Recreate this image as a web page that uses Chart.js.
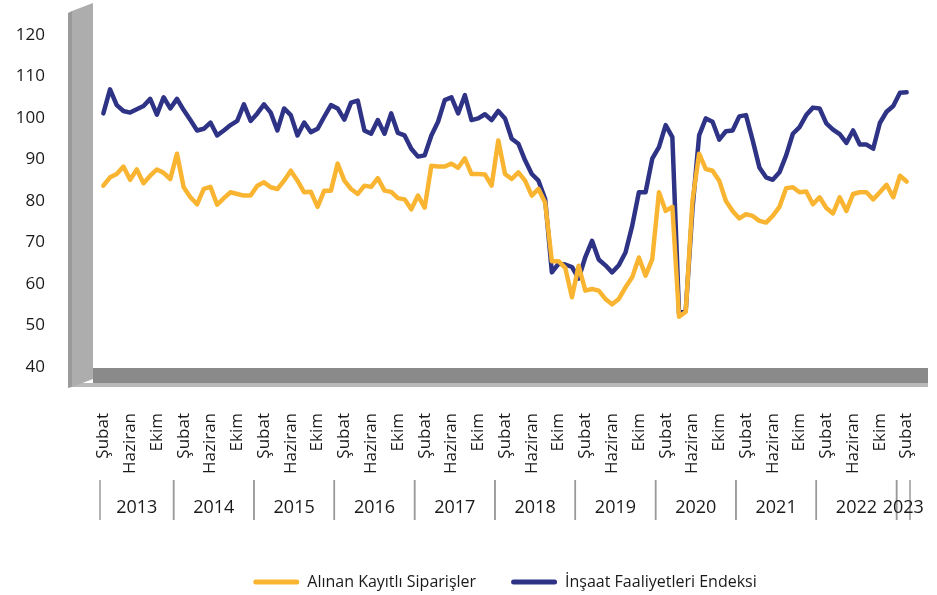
<!DOCTYPE html>
<html>
<head>
<meta charset="utf-8">
<script src="https://cdn.jsdelivr.net/npm/chart.js@4.4.0/dist/chart.umd.min.js"></script>
<style>
  html, body { margin: 0; padding: 0; background: #fff; }
  #wrap { width: 937px; height: 595px; }
</style>
</head>
<body>
<div id="wrap"><canvas id="chart"></canvas></div>
<script>
// aylar ve yillar (seri Şubat 2013 ile baslar)
const months = ['Ocak', 'Şubat', 'Mart', 'Nisan', 'Mayıs', 'Haziran', 'Temmuz', 'Ağustos', 'Eylül', 'Ekim', 'Kasım', 'Aralık'];
const years = ['2013', '2014', '2015', '2016', '2017', '2018', '2019', '2020', '2021', '2022', '2023'];
const startMonth = 1;

const siparis = [
  83.7, 85.7, 86.5, 88.3, 85.1, 87.6, 84.3, 86.1, 87.6, 86.8, 85.3,
  91.4, 83.3, 80.9, 79.2, 82.9, 83.4, 79.1, 80.7, 82.1, 81.7, 81.3, 81.3,
  83.7, 84.5, 83.3, 82.9, 84.9, 87.3, 84.9, 82.1, 82.2, 78.6, 82.5, 82.5,
  89.0, 84.9, 82.9, 81.7, 83.7, 83.4, 85.5, 82.5, 82.2, 80.7, 80.4, 78.0,
  81.3, 78.4, 88.5, 88.3, 88.3, 89.0, 88.0, 90.3, 86.5, 86.5, 86.4, 83.7,
  94.6, 86.5, 85.3, 86.9, 84.9, 81.3, 82.9, 79.6, 65.5, 65.5, 63.9, 56.8,
  64.4, 58.4, 58.8, 58.4, 56.4, 55.1, 56.4, 59.2, 61.6, 66.4, 62.0, 66.0,
  82.1, 77.6, 78.6, 52.1, 53.3, 80.0, 91.4, 87.7, 87.3, 84.9, 80.0, 77.6,
  75.8, 76.8, 76.4, 75.2, 74.8, 76.4, 78.6, 83.1, 83.3, 82.1, 82.3, 79.2,
  80.9, 78.3, 77.0, 80.9, 77.6, 81.7, 82.1, 82.1, 80.4, 82.1, 83.9, 80.9,
  86.1, 84.7
];

const insaat = [
  101.1, 106.9, 103.1, 101.7, 101.3, 102.1, 102.9, 104.6, 100.8, 105.0, 102.3,
  104.6, 101.9, 99.5, 97.0, 97.4, 98.9, 95.8, 97.0, 98.3, 99.3, 103.3, 99.3,
  101.1, 103.3, 101.3, 97.0, 102.3, 100.7, 95.8, 98.9, 96.6, 97.4, 100.3, 103.1,
  102.3, 99.6, 103.7, 104.2, 97.0, 96.2, 99.5, 96.2, 101.1, 96.4, 95.8, 92.6,
  90.7, 91.0, 95.8, 99.1, 104.3, 105.0, 101.1, 105.5, 99.5, 99.9, 100.9, 99.5,
  101.7, 99.9, 95.0, 93.8, 89.8, 86.5, 84.9, 80.5, 62.8, 64.9, 64.7, 64.1,
  61.3, 66.5, 70.4, 65.9, 64.5, 62.8, 64.5, 67.6, 74.0, 82.1, 82.1, 90.2,
  93.0, 98.3, 95.4, 52.9, 53.6, 78.0, 95.8, 99.9, 99.1, 94.8, 96.8, 97.0,
  100.4, 100.7, 94.6, 88.1, 85.7, 85.1, 86.9, 91.0, 96.2, 97.8, 100.7, 102.5,
  102.3, 98.7, 97.2, 96.1, 94.0, 97.0, 93.6, 93.6, 92.6, 98.8, 101.5, 102.9,
  106.1, 106.2
];

const labels = [];
const labelYear = [];
for (let i = 0; i < siparis.length; i++) {
  const m = startMonth + i;
  labels.push(months[m % 12]);
  labelYear.push(years[Math.floor(m / 12)]);
}

const FONT = '"Open Sans", sans-serif';
const TEXT = '#1a1a1a';

// gri duvar ve zemin (excel 3B gorunumu)
const decor = {
  id: 'decor',
  beforeDatasetsDraw(chart) {
    const { ctx, chartArea: a } = chart;
    const l = a.left, t = a.top, b = a.bottom, r = a.right;
    ctx.save();
    ctx.fillStyle = '#8a8a8a';
    ctx.fillRect(l - 7, b + 1, r + 18 - (l - 7), 15);
    ctx.fillStyle = '#b9b9b9';
    ctx.fillRect(l - 28, b + 16, r + 18 - (l - 28), 4);
    // duvarin yan yuzu
    ctx.fillStyle = '#9a9a9a';
    ctx.beginPath();
    ctx.moveTo(l - 32, t - 22);
    ctx.lineTo(l - 28, t - 24);
    ctx.lineTo(l - 28, b + 20);
    ctx.lineTo(l - 32, b + 21);
    ctx.closePath();
    ctx.fill();
    // duvarin on yuzu
    ctx.fillStyle = '#adadad';
    ctx.beginPath();
    ctx.moveTo(l - 28, t - 24);
    ctx.lineTo(l - 7, t - 32);
    ctx.lineTo(l - 7, b + 12);
    ctx.lineTo(l - 28, b + 20);
    ctx.closePath();
    ctx.fill();
    ctx.restore();
  }
};

// yil satiri
const yearRow = {
  id: 'yearRow',
  afterDraw(chart) {
    const { ctx } = chart;
    const xs = chart.scales.x;
    const b = chart.chartArea.bottom;
    const half = (xs.getPixelForValue(1) - xs.getPixelForValue(0)) / 2;
    ctx.save();
    ctx.strokeStyle = '#9a9a9a';
    ctx.lineWidth = 1.5;
    ctx.fillStyle = TEXT;
    ctx.font = '18px ' + FONT;
    ctx.textAlign = 'center';
    ctx.textBaseline = 'middle';
    years.forEach(yr => {
      const first = labelYear.indexOf(yr);
      const last = labelYear.lastIndexOf(yr);
      if (first < 0) return;
      const x0 = xs.getPixelForValue(first) - half;
      const x1 = xs.getPixelForValue(last) + half;
      ctx.beginPath();
      ctx.moveTo(x0, b + 113); ctx.lineTo(x0, b + 153);
      ctx.moveTo(x1, b + 113); ctx.lineTo(x1, b + 153);
      ctx.stroke();
      ctx.fillText(yr, (x0 + x1) / 2, b + 141);
    });
    ctx.restore();
  }
};

new Chart(document.getElementById('chart'), {
  type: 'line',
  data: {
    labels: labels,
    datasets: [
      { label: 'Alınan Kayıtlı Siparişler', data: siparis, borderColor: '#F9B531', backgroundColor: '#F9B531' },
      { label: 'İnşaat Faaliyetleri Endeksi', data: insaat, borderColor: '#2E3386', backgroundColor: '#2E3386' }
    ]
  },
  options: {
    responsive: true,
    maintainAspectRatio: false,
    animation: false,
    events: [],
    elements: {
      line: { borderWidth: 4.5, tension: 0, borderJoinStyle: 'round', borderCapStyle: 'round' },
      point: { radius: 0 }
    },
    layout: { padding: { left: 0, right: 27, top: 35, bottom: 0 } },
    plugins: {
      tooltip: { enabled: false },
      legend: {
        position: 'bottom',
        fullSize: false,
        maxHeight: 56,
        labels: {
          font: { family: FONT, size: 16 },
          color: TEXT,
          boxWidth: 46,
          boxHeight: 5,
          padding: 35,
          useBorderRadius: true,
          borderRadius: 2.5,
          generateLabels: chart => Chart.defaults.plugins.legend.labels.generateLabels(chart)
            .map(item => Object.assign(item, { lineWidth: 0 }))
        }
      }
    },
    scales: {
      x: {
        offset: true,
        grid: { display: false, drawTicks: false },
        border: { display: false },
        afterFit: s => { s.height = 172; s.paddingLeft = 0; s.paddingRight = 0; },
        ticks: {
          autoSkip: false,
          maxRotation: 90,
          minRotation: 90,
          padding: 46,
          color: TEXT,
          font: { family: FONT, size: 17 },
          callback: function (v, i) { return i % 4 === 0 ? this.getLabelForValue(v) : ''; }
        }
      },
      y: {
        min: 40,
        max: 120,
        grid: { display: false, drawTicks: false },
        border: { display: false },
        afterFit: s => { s.width = 100; s.paddingTop = 0; s.paddingBottom = 0; },
        ticks: {
          stepSize: 10,
          padding: 55,
          color: TEXT,
          font: { family: FONT, size: 17 }
        }
      }
    }
  },
  plugins: [decor, yearRow]
});
</script>
</body>
</html>
